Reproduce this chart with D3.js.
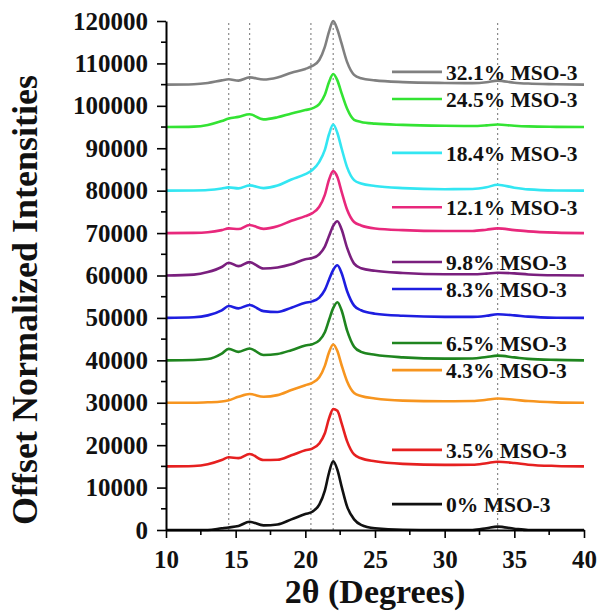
<!DOCTYPE html>
<html>
<head>
<meta charset="utf-8">
<script src="https://cdn.jsdelivr.net/npm/d3@7/dist/d3.min.js"></script>
<style>
  html, body { margin: 0; padding: 0; background: #fff; }
  svg { display: block; }
  text { font-family: "Liberation Serif", "Times New Roman", serif; font-weight: bold; }
</style>
</head>
<body>
<script>
// ---------- DATA ----------
const twoTheta = [10, 12, 13, 14, 14.5, 15.2, 16, 17, 18, 19, 20, 20.5, 21, 21.4, 21.7, 22.0, 22.3, 22.6, 23.0, 23.5, 24, 25, 27, 30, 32, 33, 33.8, 35, 36, 38, 40];

const seriesNames = ["32.1% MSO-3", "24.5% MSO-3", "18.4% MSO-3", "12.1% MSO-3", "9.8% MSO-3", "8.3% MSO-3", "6.5% MSO-3", "4.3% MSO-3", "3.5% MSO-3", "0% MSO-3"];
const seriesColors = ["#808080", "#33e333", "#33e6f2", "#e8287c", "#7a1f7e", "#1e1ee0", "#1f851f", "#f7951f", "#e62020", "#111111"];
const offsets = [105000, 95000, 80000, 70000, 60000, 50000, 40000, 30000, 15000, 0];

const mso321 = [0, 100, 400, 1000, 1250, 950, 1700, 1200, 1700, 2800, 3700, 4400, 5800, 8900, 12500, 15000, 13000, 9700, 5300, 2300, 1500, 1000, 600, 400, 350, 550, 950, 450, 250, 100, 0];
const mso245 = [0, 100, 500, 1400, 2000, 2400, 3000, 1800, 2300, 3200, 4000, 4400, 5400, 7600, 10600, 12500, 11000, 8000, 4300, 1700, 1200, 800, 500, 300, 250, 400, 600, 300, 150, 50, 0];
const mso184 = [0, 50, 150, 500, 780, 550, 1250, 600, 1200, 2650, 3900, 4850, 6800, 9600, 13300, 15600, 13600, 10000, 5500, 2500, 1700, 1100, 600, 350, 400, 800, 1400, 700, 300, 50, 0];
const mso121 = [0, 50, 200, 700, 1100, 950, 1900, 1000, 1600, 2900, 4000, 4700, 6200, 9000, 12600, 14600, 13200, 9800, 5500, 2600, 1800, 1100, 700, 500, 500, 800, 1100, 700, 400, 100, 0];
const mso98  = [0, 200, 800, 2000, 3000, 2200, 3150, 1650, 1900, 2650, 3850, 4100, 5000, 6800, 9300, 11700, 12800, 10900, 6500, 2800, 1700, 1100, 600, 300, 300, 450, 650, 500, 250, 50, 0];
const mso83  = [0, 150, 600, 1800, 2800, 2250, 3050, 1600, 1400, 2400, 3600, 3900, 4800, 6600, 9000, 11300, 12400, 10600, 6300, 2900, 1800, 1000, 500, 250, 250, 500, 850, 600, 300, 50, 0];
const mso65  = [0, 80, 300, 1600, 2700, 2000, 2800, 1250, 1500, 2400, 3500, 3800, 4700, 6600, 9500, 12300, 13700, 11800, 7000, 3200, 2000, 1300, 700, 400, 450, 800, 1100, 700, 350, 100, 0];
const mso43  = [0, 0, 100, 300, 600, 1400, 2050, 1400, 1800, 3000, 4150, 4700, 6000, 8700, 11900, 13750, 12200, 8900, 5000, 2300, 1600, 1000, 500, 350, 400, 700, 1000, 700, 400, 100, 0];
const mso35  = [0, 100, 500, 1500, 2150, 1950, 2900, 1500, 1550, 2600, 3800, 4200, 5400, 7800, 11300, 13500, 13100, 10200, 5900, 2800, 1900, 1200, 600, 350, 400, 750, 1100, 800, 400, 100, 0];
const mso0   = [0, 0, 0, 400, 600, 950, 1950, 1100, 1300, 2500, 3750, 4300, 6000, 9300, 13500, 16200, 14200, 10300, 5500, 2500, 1200, 400, 50, 0, 0, 400, 800, 300, 0, 0, 0];

const seriesValues = [mso321, mso245, mso184, mso121, mso98, mso83, mso65, mso43, mso35, mso0];

// reference lines (2θ)
const refLines = [14.5, 16.0, 20.4, 22.0, 33.8];

// axis ticks
const xTicks = [10, 15, 20, 25, 30, 35, 40];
const yTicks = [0, 10000, 20000, 30000, 40000, 50000, 60000, 70000, 80000, 90000, 100000, 110000, 120000];

// legend anchor heights (in data units)
const legendAt = [108000, 101600, 88900, 76100, 63200, 56800, 44100, 37700, 18900, 6100];

// ---------- CHART ----------
const W = 600, H = 613;
const margin = { left: 166, right: 16, top: 21, bottom: 83 };
const svg = d3.select("body").append("svg").attr("width", W).attr("height", H);
svg.append("rect").attr("width", W).attr("height", H).attr("fill", "#fff");

const x = d3.scaleLinear().domain([10, 40]).range([margin.left, W - margin.right]);
const y = d3.scaleLinear().domain([0, 120000]).range([H - margin.bottom, margin.top]);

// dotted reference lines
svg.append("g").selectAll("line").data(refLines).join("line")
  .attr("x1", d => x(d)).attr("x2", d => x(d))
  .attr("y1", y(120000) + 2).attr("y2", y(0))
  .attr("stroke", "#8a8a8a").attr("stroke-width", 1.2)
  .attr("stroke-dasharray", "2,3");

// curves
const line = d3.line()
  .x(d => x(d[0]))
  .y(d => y(d[1]))
  .curve(d3.curveMonotoneX);

seriesValues.forEach((vals, i) => {
  const pts = twoTheta.map((t, j) => [t, offsets[i] + vals[j]]);
  svg.append("path").datum(pts)
    .attr("d", line)
    .attr("fill", "none")
    .attr("stroke", seriesColors[i])
    .attr("stroke-width", 2.6)
    .attr("stroke-linejoin", "round");
});

// legend
const lg = svg.append("g");
seriesNames.forEach((name, i) => {
  const ly = y(legendAt[i]);
  lg.append("line")
    .attr("x1", 392).attr("x2", 442)
    .attr("y1", ly).attr("y2", ly)
    .attr("stroke", seriesColors[i]).attr("stroke-width", 2.6);
  lg.append("text")
    .attr("x", 446).attr("y", ly + 8)
    .attr("font-size", 21.5)
    .attr("fill", "#111")
    .text(name);
});

// axes
const xAxis = d3.axisBottom(x).tickValues(xTicks).tickFormat(d3.format("d")).tickSize(8).tickSizeOuter(0).tickPadding(12);
const gx = svg.append("g").attr("transform", `translate(0,${y(0)})`).call(xAxis);
const xMinor = d3.range(12.5, 40, 5);
gx.selectAll(".minor").data(xMinor).join("line").attr("class", "minor")
  .attr("x1", d => x(d)).attr("x2", d => x(d)).attr("y1", 0).attr("y2", 5)
  .attr("stroke", "#000").attr("stroke-width", 1.6);

const yAxis = d3.axisLeft(y).tickValues(yTicks).tickFormat(d3.format("d")).tickSize(9).tickSizeOuter(0).tickPadding(9);
const gy = svg.append("g").attr("transform", `translate(${x(10)},0)`).call(yAxis);
const yMinor = d3.range(5000, 120000, 10000);
gy.selectAll(".minor").data(yMinor).join("line").attr("class", "minor")
  .attr("y1", d => y(d)).attr("y2", d => y(d)).attr("x1", 0).attr("x2", -5)
  .attr("stroke", "#000").attr("stroke-width", 1.6);

[gx, gy].forEach(g => {
  g.select(".domain").attr("stroke", "#000").attr("stroke-width", 2);
  g.selectAll(".tick line").attr("stroke", "#000").attr("stroke-width", 1.6);
  g.selectAll(".tick text")
    .attr("font-family", "'Liberation Serif', 'Times New Roman', serif")
    .attr("font-weight", "bold")
    .attr("font-size", 25)
    .attr("fill", "#111");
});

// axis titles
svg.append("text")
  .attr("x", (x(10) + x(40)) / 2).attr("y", 603)
  .attr("text-anchor", "middle")
  .attr("font-size", 34)
  .attr("fill", "#111")
  .text("2θ (Degrees)");

svg.append("text")
  .attr("transform", "translate(37,300) rotate(-90)")
  .attr("text-anchor", "middle")
  .attr("font-size", 36)
  .attr("fill", "#111")
  .text("Offset Normalized Intensities");
</script>
</body>
</html>
